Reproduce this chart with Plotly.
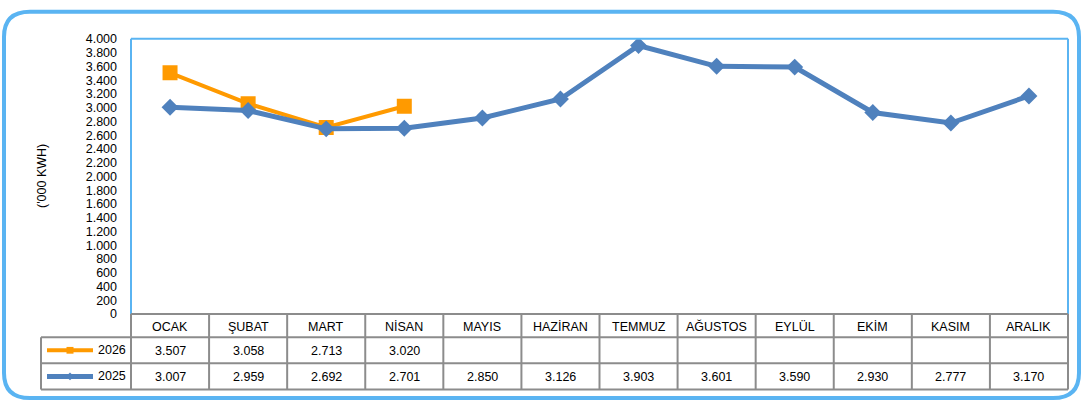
import plotly.graph_objects as go

months = ["OCAK", "ŞUBAT", "MART", "NİSAN", "MAYIS", "HAZİRAN", "TEMMUZ",
          "AĞUSTOS", "EYLÜL", "EKİM", "KASIM", "ARALIK"]
values_2026 = [3507, 3058, 2713, 3020]
values_2025 = [3007, 2959, 2692, 2701, 2850, 3126, 3903, 3601, 3590, 2930, 2777, 3170]
series_names = ["2026", "2025"]
y_ticks = list(range(0, 4001, 200))

W, H = 1082, 408
FONT = "Liberation Sans"
FS = 12.5
BLUE = "#4F81BD"
ORANGE = "#FF9A00"
FRAME = "#5AB4F2"
GRID = "#8C8C8C"

# layout in pixels
PL, PR, PT, PB = 131, 1068, 33, 318
ROW1, ROW2, ROW3 = 342, 369, 396
LEG_L = 41


def px(x):
    return x / W


def py(y):
    return 1 - y / H


def fmt(v):
    return f"{v:,}".replace(",", ".")


fig = go.Figure()
fig.add_trace(go.Scatter(
    x=list(range(len(values_2026))), y=values_2026, name=series_names[0],
    mode="lines+markers", line=dict(color=ORANGE, width=4),
    marker=dict(symbol="square", size=15, color=ORANGE)))
fig.add_trace(go.Scatter(
    x=list(range(len(values_2025))), y=values_2025, name=series_names[1],
    mode="lines+markers", line=dict(color=BLUE, width=5),
    marker=dict(symbol="diamond", size=13, color=BLUE)))

shapes = []
# outer rounded frame
x0, y0, x1, y1, r = 4, 5, 1079, 405, 26
path = (f"M {px(x0+r)},{py(y0)} L {px(x1-r)},{py(y0)} Q {px(x1)},{py(y0)} {px(x1)},{py(y0+r)} "
        f"L {px(x1)},{py(y1-r)} Q {px(x1)},{py(y1)} {px(x1-r)},{py(y1)} "
        f"L {px(x0+r)},{py(y1)} Q {px(x0)},{py(y1)} {px(x0)},{py(y1-r)} "
        f"L {px(x0)},{py(y0+r)} Q {px(x0)},{py(y0)} {px(x0+r)},{py(y0)} Z")
shapes.append(dict(type="path", xref="paper", yref="paper", path=path,
                   line=dict(color=FRAME, width=4)))
# plot area border (top, left, right)
for (ax, ay, bx, by) in [(PL, PT, PR, PT), (PL, PT, PL, PB), (PR, PT, PR, PB)]:
    shapes.append(dict(type="line", xref="paper", yref="paper",
                       x0=px(ax), y0=py(ay), x1=px(bx), y1=py(by),
                       line=dict(color=FRAME, width=2)))

# data table grid
n = len(months)
colw = (PR - PL) / n
for yy in [PB, ROW1, ROW2, ROW3]:
    xs = PL if yy == PB else LEG_L
    shapes.append(dict(type="line", xref="paper", yref="paper",
                       x0=px(xs), y0=py(yy), x1=px(PR), y1=py(yy),
                       line=dict(color=GRID, width=2)))
for i in range(n + 1):
    xx = PL + i * colw
    shapes.append(dict(type="line", xref="paper", yref="paper",
                       x0=px(xx), y0=py(PB), x1=px(xx), y1=py(ROW3),
                       line=dict(color=GRID, width=2)))
shapes.append(dict(type="line", xref="paper", yref="paper",
                   x0=px(LEG_L), y0=py(ROW1), x1=px(LEG_L), y1=py(ROW3),
                   line=dict(color=GRID, width=2)))

# legend keys inside table
row_mid = [(ROW1 + ROW2) / 2, (ROW2 + ROW3) / 2]
key_colors = [ORANGE, BLUE]
for k, (ym, c) in enumerate(zip(row_mid, key_colors)):
    shapes.append(dict(type="line", xref="paper", yref="paper",
                       x0=px(47), y0=py(ym), x1=px(93), y1=py(ym),
                       line=dict(color=c, width=5 if k else 4)))
    cx = 70
    if k == 0:
        shapes.append(dict(type="rect", xref="paper", yref="paper",
                           x0=px(cx - 3.5), y0=py(ym - 3.5), x1=px(cx + 3.5), y1=py(ym + 3.5),
                           fillcolor=c, line=dict(width=0)))
    else:
        d = 4
        shapes.append(dict(type="path", xref="paper", yref="paper",
                           path=f"M {px(cx-d)},{py(ym)} L {px(cx)},{py(ym-d)} L {px(cx+d)},{py(ym)} L {px(cx)},{py(ym+d)} Z",
                           fillcolor=c, line=dict(width=0)))

annotations = []
tfont = dict(family=FONT, size=FS, color="black")
for i, m in enumerate(months):
    cx = PL + (i + 0.5) * colw
    annotations.append(dict(x=px(cx), y=py((PB + ROW1) / 2 + 1), xref="paper", yref="paper",
                            text=m, showarrow=False, font=tfont, xanchor="center", yanchor="middle"))
for vals, ym in zip([values_2026, values_2025], row_mid):
    for i, v in enumerate(vals):
        cx = PL + (i + 0.5) * colw
        annotations.append(dict(x=px(cx), y=py(ym + 1), xref="paper", yref="paper",
                                text=fmt(v), showarrow=False, font=tfont,
                                xanchor="center", yanchor="middle"))
for name, ym in zip(series_names, row_mid):
    annotations.append(dict(x=px(96), y=py(ym), xref="paper", yref="paper",
                            text=name, showarrow=False, font=tfont,
                            xanchor="left", yanchor="middle"))
annotations.append(dict(x=px(42), y=py(175), xref="paper", yref="paper",
                        text="('000 KWH)", textangle=-90, showarrow=False,
                        font=tfont, xanchor="center", yanchor="middle"))

fig.update_layout(
    width=W, height=H, margin=dict(l=0, r=0, t=0, b=0),
    paper_bgcolor="white", plot_bgcolor="white",
    showlegend=False, separators=",.",
    xaxis=dict(domain=[px(PL), px(PR)], range=[-0.5, n - 0.5], visible=False),
    yaxis=dict(domain=[py(PB), py(PT)], range=[0, 4000], tickvals=y_ticks,
               tickformat=",d", showgrid=False, zeroline=False, showline=False,
               ticks="", ticklabelstandoff=13,
               tickfont=dict(family=FONT, size=FS, color="black")),
    shapes=shapes, annotations=annotations,
)

post = ("document.documentElement.style.overflow='hidden';"
        "document.body.style.margin='0';document.body.style.padding='0';"
        "document.body.style.overflow='hidden';"
        "var d=document.getElementById('{plot_id}');"
        "d.style.position='fixed';d.style.top='0px';d.style.left='0px';")
fig.write_html("out.html", config={"displayModeBar": False}, post_script=post)
